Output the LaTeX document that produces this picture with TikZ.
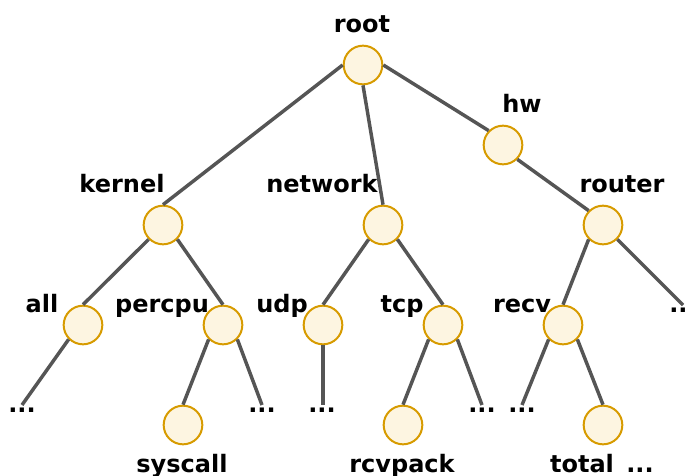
\documentclass[tikz,border=0pt]{standalone}
\usepackage{fontspec}
\setmainfont{DejaVu Sans}
\definecolor{nodefill}{HTML}{FDF5E1}
\definecolor{nodeline}{HTML}{D79B00}
\definecolor{edgegray}{HTML}{555555}
\begin{document}
\begin{tikzpicture}[x=0.75pt,y=-0.75pt,
  treenode/.style={circle,draw=nodeline,fill=nodefill,line width=1.5pt,minimum size=29pt,inner sep=0pt},
  lbl/.style={font=\fontsize{18}{22}\selectfont\bfseries,inner sep=0pt,anchor=base},
  edge/.style={draw=edgegray,line width=2.6pt}]
\useasboundingbox (0,0) rectangle (685,475);
% tree nodes
\node[treenode] (root) at (363,65) {};
\node[treenode] (hw) at (503,145) {};
\node[treenode] (kernel) at (163,225) {};
\node[treenode] (network) at (383,225) {};
\node[treenode] (router) at (603,225) {};
\node[treenode] (all) at (83,325) {};
\node[treenode] (percpu) at (223,325) {};
\node[treenode] (udp) at (323,325) {};
\node[treenode] (tcp) at (443,325) {};
\node[treenode] (recv) at (563,325) {};
\node[treenode] (syscall) at (183,425) {};
\node[treenode] (rcvpack) at (403,425) {};
\node[treenode] (total) at (603,425) {};
% open ends of the truncated branches
\coordinate (eA) at (22,405);
\coordinate (eB) at (262,405);
\coordinate (eC) at (323,405);
\coordinate (eD) at (482,405);
\coordinate (eE) at (522,405);
\coordinate (eF) at (683,305);
% edges
\path[edge] (root.west) -- (kernel.north);
\path[edge] (root.south) -- (network.north);
\path[edge] (root.east) -- (hw.north west);
\path[edge] (hw.south east) -- (router.north west);
\path[edge] (kernel.south west) -- (all.north);
\path[edge] (kernel.south east) -- (percpu.north);
\path[edge] (network.south west) -- (udp.north);
\path[edge] (network.south east) -- (tcp.north);
\path[edge] (router.south west) -- (recv.north);
\path[edge] (router.south east) -- (eF);
\path[edge] (all.south west) -- (eA);
\path[edge] (percpu.south west) -- (syscall.north);
\path[edge] (percpu.south east) -- (eB);
\path[edge] (udp.south) -- (eC);
\path[edge] (tcp.south west) -- (rcvpack.north);
\path[edge] (tcp.south east) -- (eD);
\path[edge] (recv.south west) -- (eE);
\path[edge] (recv.south east) -- (total.north);
% labels
\node[lbl] (tRoot) at (362,32) {root};
\node[lbl] (tHw) at (522,112) {hw};
\node[lbl] (tKernel) at (122,192) {kernel};
\node[lbl] (tNetwork) at (322,192) {network};
\node[lbl] (tRouter) at (622,192) {router};
\node[lbl] (tAll) at (42,312) {all};
\node[lbl] (tPercpu) at (162,312) {percpu};
\node[lbl] (tUdp) at (282,312) {udp};
\node[lbl] (tTcp) at (402,312) {tcp};
\node[lbl] (tRecv) at (522,312) {recv};
\node[lbl,anchor=base west] (tF) at (669,312) {...};
\node[lbl] (tA) at (22,412) {...};
\node[lbl] (tB) at (262,412) {...};
\node[lbl] (tC) at (322,412) {...};
\node[lbl] (tD) at (482,412) {...};
\node[lbl] (tE) at (522,412) {...};
\node[lbl] (tSyscall) at (182,472) {syscall};
\node[lbl] (tRcvpack) at (402,472) {rcvpack};
\node[lbl] (tTotal) at (582,472) {total};
\node[lbl] (tG) at (640,472) {...};
\end{tikzpicture}
\end{document}
